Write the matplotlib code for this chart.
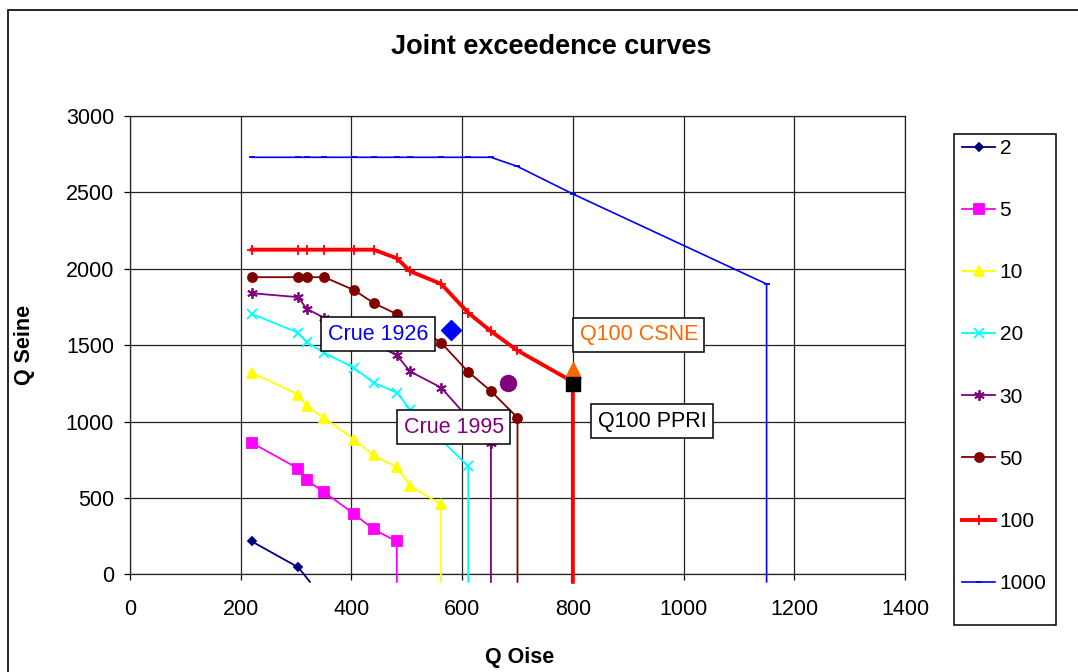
import matplotlib.pyplot as plt
from matplotlib.patches import Rectangle

plt.rcParams['font.family'] = ['Liberation Sans', 'DejaVu Sans']

# -------------------------------
# data
# -------------------------------
x_2 = [220, 304, 325]
y_2 = [215, 45, -50]

x_5 = [220, 304, 319, 351, 405, 440, 482, 482]
y_5 = [860, 692, 616, 537, 394, 293, 215, -50]

x_10 = [220, 304, 319, 351, 405, 440, 482, 506, 562, 562]
y_10 = [1320, 1176, 1101, 1023, 882, 779, 701, 578, 457, -50]

x_20 = [220, 304, 319, 351, 405, 440, 482, 506, 611, 611]
y_20 = [1705, 1581, 1520, 1450, 1350, 1254, 1189, 1078, 707, -50]

x_30 = [220, 304, 319, 351, 482, 506, 562, 652, 652]
y_30 = [1840, 1814, 1738, 1679, 1433, 1328, 1222, 857, -50]

x_50 = [220, 304, 319, 351, 405, 440, 482, 562, 611, 652, 700, 700]
y_50 = [1945, 1945, 1945, 1945, 1860, 1776, 1703, 1516, 1325, 1199, 1025, -50]

x_100 = [220, 304, 319, 351, 405, 440, 482, 506, 562, 611, 652, 700, 800, 800]
y_100 = [2125, 2125, 2125, 2125, 2125, 2125, 2069, 1984, 1901, 1712, 1591, 1465, 1260, -50]

x_1000 = [220, 304, 319, 351, 405, 440, 482, 506, 562, 611, 652, 700, 800, 1150, 1150]
y_1000 = [2730, 2730, 2730, 2730, 2730, 2730, 2730, 2730, 2730, 2730, 2730, 2670, 2490, 1900, -50]

series_labels = ['2', '5', '10', '20', '30', '50', '100', '1000']

# single events
crue1926 = (580, 1600)
crue1995 = (683, 1253)
q100_csne = (800, 1337)
q100_ppri = (800, 1248)

# -------------------------------
# figure
# -------------------------------
fig = plt.figure(figsize=(10.78, 6.72), dpi=100)
ax = fig.add_axes([0.1206, 0.1455, 0.7189, 0.6818])

star = (6, 2, 0)
styles = [
    (x_2, y_2, '#000080', 'D', 4.5, 1.3),
    (x_5, y_5, '#FF00FF', 's', 6.5, 1.3),
    (x_10, y_10, '#FFFF00', '^', 7.5, 1.3),
    (x_20, y_20, '#00FFFF', 'x', 6.5, 1.3),
    (x_30, y_30, '#800080', star, 7.5, 1.3),
    (x_50, y_50, '#800000', 'o', 6.5, 1.3),
    (x_100, y_100, '#FF0000', '+', 7.5, 2.8),
    (x_1000, y_1000, '#0000FF', '_', 5, 1.2),
]

handles = []
for (xs, ys, col, mk, ms, lw), lab in zip(styles, series_labels):
    n = 2 if lab == '2' else len(xs) - 1
    h, = ax.plot(xs, ys, color=col, marker=mk, markersize=ms, linewidth=lw,
                 markeredgewidth=1.3, markevery=list(range(n)), label=lab,
                 clip_on=False, zorder=3)
    handles.append(h)

ax.plot(*crue1926, marker='D', color='#0000FF', markersize=10, linestyle='none', zorder=4)
ax.plot(*crue1995, marker='o', color='#800080', markersize=11.5, linestyle='none', zorder=4)
ax.plot(*q100_csne, marker='^', color='#FF6600', markersize=12, linestyle='none', zorder=4)
ax.plot(*q100_ppri, marker='s', color='#000000', markersize=9.5, linestyle='none', zorder=5)

box = dict(boxstyle='square,pad=0.3', facecolor='white', edgecolor='black', linewidth=1.1)
ax.text(448, 1570, 'Crue 1926', color='#0000FF', fontsize=15.5, ha='center', va='center', bbox=box, zorder=6)
ax.text(919, 1569, 'Q100 CSNE', color='#FF6600', fontsize=15.5, ha='center', va='center', bbox=box, zorder=6)
ax.text(585, 962, 'Crue 1995', color='#800080', fontsize=15.5, ha='center', va='center', bbox=box, zorder=6)
ax.text(943, 1003, 'Q100 PPRI', color='black', fontsize=15.5, ha='center', va='center', bbox=box, zorder=6)

ax.set_xlim(0, 1400)
ax.set_ylim(0, 3000)
ax.set_xticks(range(0, 1401, 200))
ax.set_yticks(range(0, 3001, 500))
ax.grid(True, color='#222222', linewidth=0.9)
ax.set_axisbelow(True)
for s in ax.spines.values():
    s.set_color('#222222')
    s.set_linewidth(0.9)
ax.tick_params(axis='both', direction='out', length=4.5, width=0.9, labelsize=15.5)
ax.tick_params(axis='x', pad=13)
ax.tick_params(axis='y', pad=7)

fig.text(0.511, 0.930, 'Joint exceedence curves', ha='center', va='center',
         fontsize=19.5, fontweight='bold')
fig.text(0.482, 0.021, 'Q Oise', ha='center', va='center', fontsize=15.5, fontweight='bold')
fig.text(0.023, 0.487, 'Q Seine', ha='center', va='center', rotation=90,
         fontsize=15.5, fontweight='bold')

# legend (frame drawn separately)
fig.legend(handles=handles, loc='upper left', bbox_to_anchor=(0.8925, 0.793),
           frameon=False, fontsize=15, labelspacing=2.07, handlelength=1.6,
           handletextpad=0.2, borderpad=0, borderaxespad=0)
fig.patches.append(Rectangle((954 / 1078, 1 - 625 / 672), 102 / 1078, 491 / 672,
                             transform=fig.transFigure, fill=False,
                             edgecolor='black', linewidth=1.1))

# chart border
fig.patches.append(Rectangle((8 / 1078, -0.1), 1.2, 1.1 - 10 / 672,
                             transform=fig.transFigure, fill=False,
                             edgecolor='black', linewidth=1.2))

fig.savefig('out.png', dpi=100)
